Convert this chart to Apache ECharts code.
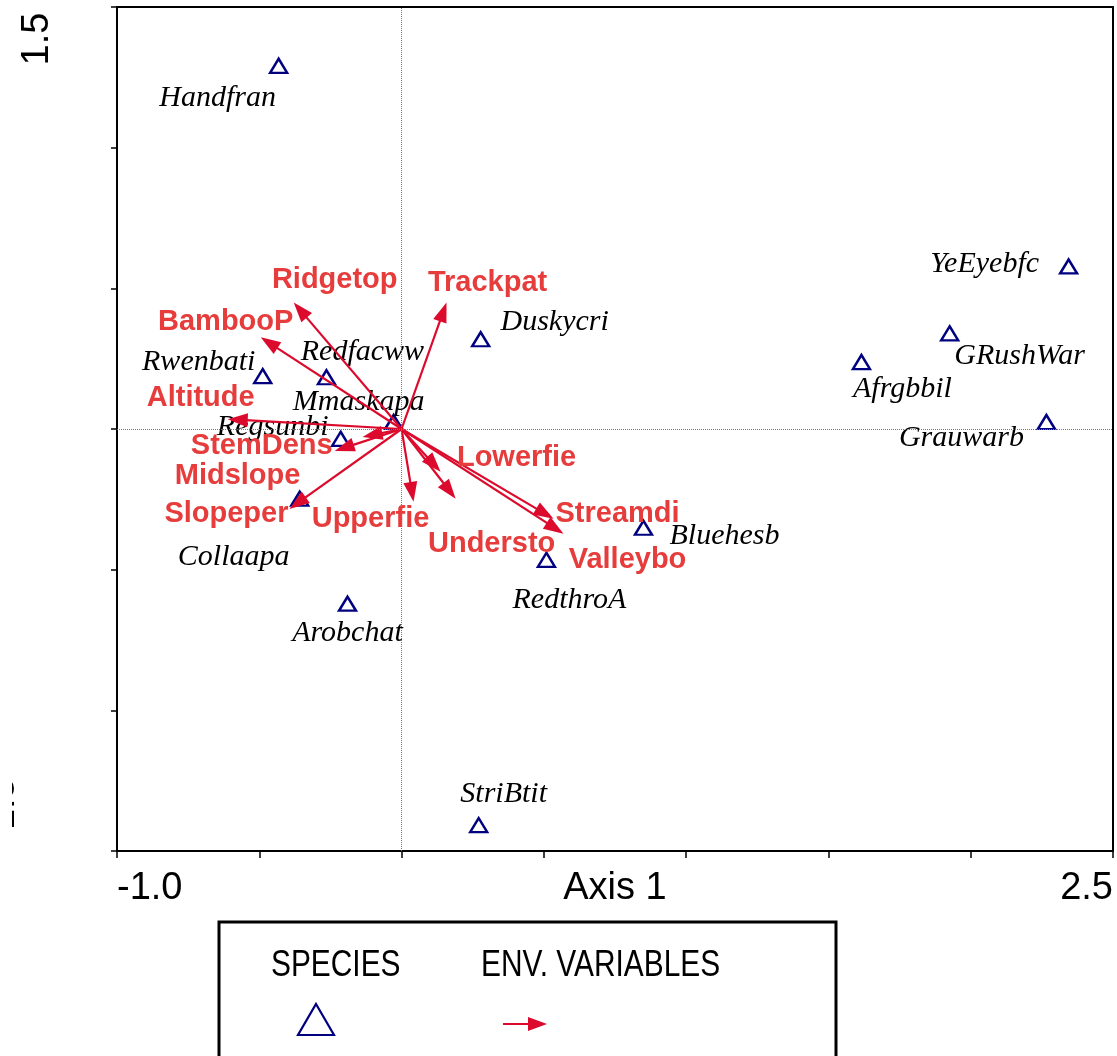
<!DOCTYPE html>
<html>
<head>
<meta charset="utf-8">
<script src="https://cdn.jsdelivr.net/npm/echarts@6/dist/echarts.min.js"></script>
<style>
  html, body { margin: 0; padding: 0; background: #fff; }
  #chart { width: 1117px; height: 1056px; }
</style>
</head>
<body>
<div id="chart"></div>
<script>
// Species scores (triangles)
const speciesNames = ['Handfran', 'Rwenbati', 'Redfacww', 'Mmaskapa', 'Regsunbi', 'Collaapa', 'Arobchat',
  'Duskycri', 'Bluehesb', 'RedthroA', 'StriBtit', 'YeEyebfc', 'GRushWar', 'Afrgbbil', 'Grauwarb'];
const speciesX = [-0.432, -0.488, -0.264, -0.028, -0.214, -0.358, -0.190,
  0.278, 0.850, 0.509, 0.271, 2.344, 1.926, 1.616, 2.266];
const speciesY = [1.291, 0.188, 0.184, 0.025, -0.035, -0.248, -0.621,
  0.319, -0.351, -0.465, -1.408, 0.578, 0.340, 0.238, 0.025];

// Environmental variable biplot arrows (tips; all start at the origin)
const envNames = ['Ridgetop', 'BambooP', 'Altitude', 'StemDens', 'Midslope', 'Slopeper',
  'Trackpat', 'Upperfie', 'Lowerfie', 'Understo', 'Streamdi', 'Valleybo'];
const envX = [-0.379, -0.495, -0.611, -0.235, -0.137, -0.394,
  0.158, 0.042, 0.137, 0.190, 0.534, 0.569];
const envY = [0.450, 0.326, 0.035, -0.078, -0.028, -0.284,
  0.450, -0.259, -0.152, -0.248, -0.319, -0.372];

// Axis range and tick labels
const xMin = -1.0, xMax = 2.5, xStep = 0.5;
const yMin = -1.5, yMax = 1.5, yStep = 0.5;
const xEndLabels = ['-1.0', '2.5'];
const yEndLabels = ['-1.5', '1.5'];
const xAxisTitle = 'Axis 1';
const legendTitles = ['SPECIES', 'ENV. VARIABLES'];

// Label placement (pixel offsets of each label centre from its mark)
const speciesLabelOffset = {
  Handfran: [-61, 32], Rwenbati: [-64, -14], Redfacww: [36, -25], Mmaskapa: [-35, -20],
  Regsunbi: [-68, -12], Collaapa: [-66, 58], Arobchat: [0, 29], Duskycri: [74, -17],
  Bluehesb: [81, 8], RedthroA: [23, 40], StriBtit: [25, -31], YeEyebfc: [-84, -2],
  GRushWar: [70, 23], Afrgbbil: [41, 27], Grauwarb: [-85, 16]
};
const envLabelOffset = {
  Ridgetop: [41, -22], BambooP: [-35, -15], Altitude: [-27, -21], StemDens: [-73, -5],
  Midslope: [-125, 39], Slopeper: [-63, 5], Trackpat: [41, -19], Upperfie: [-43, 17],
  Lowerfie: [76, -14], Understo: [36, 45], Streamdi: [64, -5], Valleybo: [64, 26]
};

const NAVY = '#000080';
const ARROW_RED = '#dc0a2c';
const LABEL_RED = '#e63c3c';
const SANS = '"Liberation Sans", Arial, sans-serif';
const SERIF = '"Liberation Serif", "Times New Roman", serif';

const chart = echarts.init(document.getElementById('chart'), null, { renderer: 'canvas' });

const speciesData = speciesNames.map((n, i) => ({
  name: n,
  value: [speciesX[i], speciesY[i]],
  label: { offset: speciesLabelOffset[n] }
}));
const envData = envNames.map((n, i) => ({ name: n, value: [envX[i], envY[i]] }));

function renderArrow(params, api) {
  const name = envNames[params.dataIndex];
  const o = api.coord([0, 0]);
  const t = api.coord([api.value(0), api.value(1)]);
  const dx = t[0] - o[0], dy = t[1] - o[1];
  const len = Math.hypot(dx, dy) || 1;
  const ux = dx / len, uy = dy / len;
  const headLen = 20, headHalf = 7;
  const bx = t[0] - ux * headLen, by = t[1] - uy * headLen;
  const off = envLabelOffset[name];
  return {
    type: 'group',
    children: [
      { type: 'line', shape: { x1: o[0], y1: o[1], x2: bx + ux * 2, y2: by + uy * 2 },
        style: { stroke: ARROW_RED, lineWidth: 2.2 } },
      { type: 'polygon',
        shape: { points: [t, [bx - uy * headHalf, by + ux * headHalf], [bx + uy * headHalf, by - ux * headHalf]] },
        style: { fill: ARROW_RED } },
      { type: 'text', x: t[0] + off[0], y: t[1] + off[1], z2: 10,
        style: { text: name, fill: LABEL_RED, font: 'bold 29px ' + SANS,
                 align: 'center', verticalAlign: 'middle' } }
    ]
  };
}

chart.setOption({
  animation: false,
  backgroundColor: '#fff',
  grid: { left: 117, right: 4, top: 7, bottom: 205, show: true,
          borderColor: '#000', borderWidth: 2, backgroundColor: 'transparent' },
  xAxis: {
    type: 'value', min: xMin, max: xMax, interval: xStep,
    name: xAxisTitle, nameLocation: 'middle', nameGap: 19, nameMoveOverlap: false,
    nameTextStyle: { color: '#000', fontSize: 38, fontFamily: SANS, verticalAlign: 'top' },
    axisLine: { show: true, onZero: false, lineStyle: { color: '#000', width: 2 } },
    axisTick: { show: true, length: 7, lineStyle: { color: '#000', width: 1.5 } },
    splitLine: { show: false },
    axisLabel: {
      color: '#000', fontSize: 38, fontFamily: SANS, margin: 19,
      showMinLabel: true, showMaxLabel: true,
      alignMinLabel: 'left', alignMaxLabel: 'right',
      formatter: v => (Math.abs(v - xMin) < 1e-9 ? xEndLabels[0] : Math.abs(v - xMax) < 1e-9 ? xEndLabels[1] : '')
    }
  },
  yAxis: {
    type: 'value', min: yMin, max: yMax, interval: yStep,
    axisLine: { show: true, onZero: false, lineStyle: { color: '#000', width: 2 } },
    axisTick: { show: true, length: 6, lineStyle: { color: '#000', width: 1.5 } },
    splitLine: { show: false },
    axisLabel: { show: false }
  },
  series: [
    {
      type: 'scatter', z: 2,
      symbol: 'triangle', symbolSize: [17, 14],
      itemStyle: { color: 'rgba(0,0,0,0)', borderColor: NAVY, borderWidth: 2.4, opacity: 1 },
      label: { show: true, position: 'inside', formatter: '{b}', color: '#000',
               fontFamily: SERIF, fontStyle: 'italic', fontSize: 30,
               align: 'center', verticalAlign: 'middle' },
      emphasis: { disabled: true },
      data: speciesData,
      markLine: {
        silent: true, symbol: 'none', animation: false,
        label: { show: false },
        lineStyle: { type: [1, 1], color: '#777', width: 1 },
        data: [{ xAxis: 0 }, { yAxis: 0 }]
      }
    },
    {
      type: 'custom', z: 3,
      renderItem: renderArrow,
      encode: { x: 0, y: 1 },
      data: envData
    }
  ]
});

// End labels of the vertical axis and the legend box
const pTop = chart.convertToPixel({ gridIndex: 0 }, [xMin, yMax]);
const pBot = chart.convertToPixel({ gridIndex: 0 }, [xMin, yMin]);
const legendFont = '36px ' + SANS;

chart.setOption({
  graphic: [
    { type: 'text', x: pTop[0] - 79, y: pTop[1] + 32, rotation: Math.PI / 2,
      style: { text: yEndLabels[1], fill: '#000', font: '38px ' + SANS, align: 'center', verticalAlign: 'middle' } },
    { type: 'text', x: pBot[0] - 113, y: pBot[1] - 41, rotation: Math.PI / 2,
      style: { text: yEndLabels[0], fill: '#000', font: '38px ' + SANS, align: 'center', verticalAlign: 'middle' } },
    // page margin strip that trims the lower end label
    { type: 'rect', shape: { x: 0, y: pBot[1] - 110, width: 12, height: 110 },
      style: { fill: '#fff' }, z: 50 },
    { type: 'rect', shape: { x: 219, y: 922, width: 617, height: 200 },
      style: { fill: '#fff', stroke: '#000', lineWidth: 3 } },
    { type: 'text', x: 271, y: 966, scaleX: 0.83,
      style: { text: legendTitles[0], fill: '#000', font: legendFont, align: 'left', verticalAlign: 'middle' } },
    { type: 'text', x: 481, y: 966, scaleX: 0.83,
      style: { text: legendTitles[1], fill: '#000', font: legendFont, align: 'left', verticalAlign: 'middle' } },
    { type: 'polygon', shape: { points: [[316, 1004], [334, 1035], [298, 1035]] },
      style: { fill: 'none', stroke: NAVY, lineWidth: 2.2 } },
    { type: 'line', shape: { x1: 503, y1: 1024, x2: 530, y2: 1024 },
      style: { stroke: ARROW_RED, lineWidth: 2 } },
    { type: 'polygon', shape: { points: [[547, 1024], [528, 1017], [528, 1031]] },
      style: { fill: ARROW_RED } }
  ]
});
</script>
</body>
</html>
